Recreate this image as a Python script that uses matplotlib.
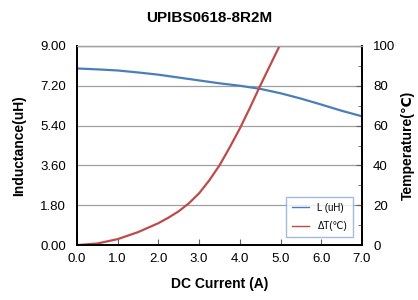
import matplotlib.pyplot as plt
from matplotlib.ticker import MultipleLocator

plt.rcParams['font.family'] = ['Liberation Sans', 'DejaVu Sans']

current = [0.0, 0.5, 1.0, 1.5, 2.0, 2.5, 3.0, 3.5, 4.0, 4.5, 5.0, 5.5, 6.0, 6.5, 7.0]
inductance = [7.98, 7.94, 7.89, 7.80, 7.70, 7.57, 7.44, 7.31, 7.20, 7.06, 6.86, 6.62, 6.35, 6.07, 5.82]

temp_current = [0.0, 0.5, 1.0, 1.5, 2.0, 2.25, 2.5, 2.75, 3.0, 3.25, 3.5, 3.75, 4.0, 4.25, 4.5, 4.75, 5.0]
temp_rise = [0.0, 0.8, 3.0, 6.5, 11.0, 13.8, 17.0, 21.0, 26.0, 32.5, 40.0, 49.0, 58.5, 69.0, 80.0, 90.5, 101.0]

fig = plt.figure(figsize=(4.18, 3.0), dpi=100)
ax = fig.add_axes([0.184, 0.183, 0.682, 0.664])
ax2 = ax.twinx()

l1, = ax.plot(current, inductance, color='#4a7ebb', lw=1.6, label='L (uH)')
l2, = ax2.plot(temp_current, temp_rise, color='#be4b48', lw=1.6, label='ΔT(℃)')

ax.set_xlim(0, 7)
ax.set_ylim(0, 9)
ax2.set_ylim(0, 100)
ax.set_xticks([0, 1, 2, 3, 4, 5, 6, 7])
ax.set_xticklabels(['0.0', '1.0', '2.0', '3.0', '4.0', '5.0', '6.0', '7.0'])
ax.set_yticks([0, 1.8, 3.6, 5.4, 7.2, 9.0])
ax.set_yticklabels(['0.00', '1.80', '3.60', '5.40', '7.20', '9.00'])
ax2.set_yticks([0, 20, 40, 60, 80, 100])
ax2.yaxis.set_minor_locator(MultipleLocator(10))

ax.grid(axis='y', color='#a0a0a0', lw=0.9)
ax.tick_params(axis='x', direction='in', length=4, labelsize=9.5, pad=6, color='#606060')
ax.tick_params(axis='y', length=0, labelsize=9.5, pad=8)
ax2.tick_params(axis='y', which='major', direction='in', length=4, labelsize=9.5, pad=8, color='#606060')
ax2.tick_params(axis='y', which='minor', direction='in', length=3, color='#606060')

for a in (ax, ax2):
    a.spines['top'].set_color('#a0a0a0')
    a.spines['top'].set_linewidth(0.9)
    a.spines['left'].set_linewidth(1.3)
    a.spines['bottom'].set_linewidth(1.3)
    a.spines['right'].set_linewidth(1.3)

ax.set_xlabel('DC Current (A)', fontsize=10, fontweight='bold', labelpad=8)
ax.set_ylabel('Inductance(uH)', fontsize=10, fontweight='bold', labelpad=10)
ax2.set_ylabel('Temperature(℃)', fontsize=10, fontweight='bold', labelpad=4)
fig.suptitle('UPIBS0618-8R2M', fontsize=11, fontweight='bold', y=0.965)

leg = ax2.legend(handles=[l1, l2], loc='lower right', bbox_to_anchor=(0.985, 0.015),
                 fontsize=7, fancybox=False, handlelength=1.8, frameon=True,
                 borderpad=0.6, labelspacing=0.9)
leg.get_frame().set_edgecolor('#8eaad4')
leg.get_frame().set_linewidth(1.0)
for h in leg.get_lines():
    h.set_linewidth(1.0)

fig.savefig('out.png', dpi=100)
